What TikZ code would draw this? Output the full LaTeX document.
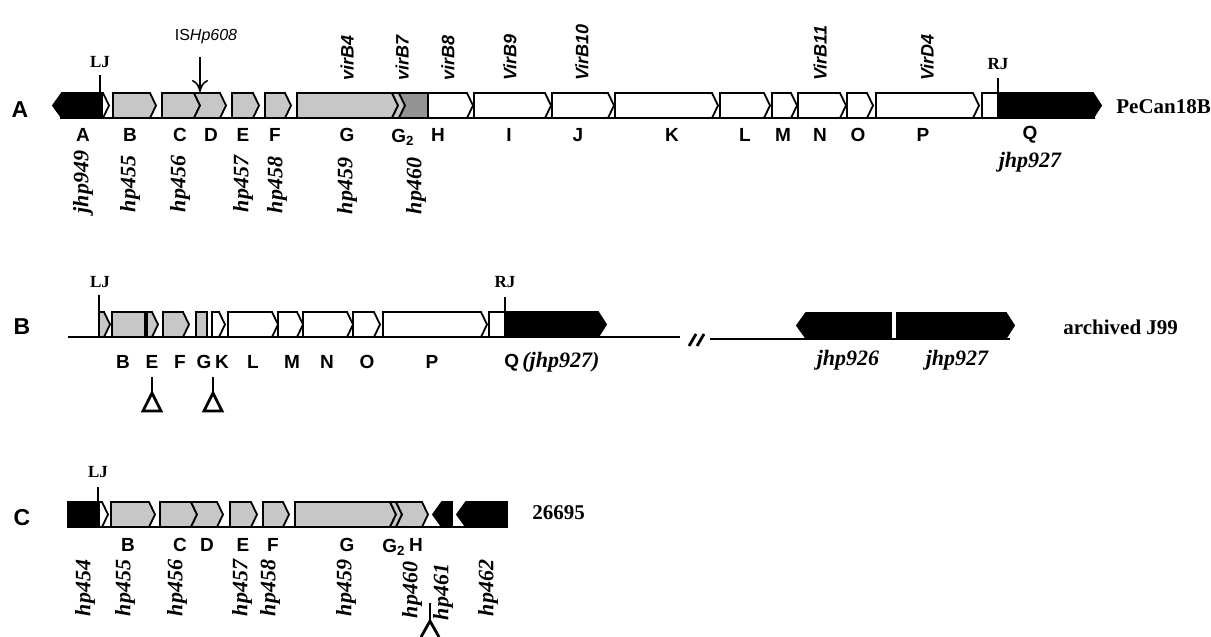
\documentclass[tikz,border=0pt]{standalone}
\usepackage{fontspec}
\setmainfont{Liberation Serif}
\setsansfont{Liberation Sans}
\usepackage{xcolor}
\usepackage{tikz}
\usetikzlibrary{arrows.meta}

\colorlet{shade}{black!22}
\colorlet{darkshade}{black!42}

\tikzset{
    genebox/.style={draw=black, line width=0.9pt, line join=miter},
    dnaline/.style={line width=1.1pt},
    jline/.style={line width=0.8pt},
    letter/.style={font=\fontsize{9.5}{10}\selectfont\sffamily\bfseries, inner sep=0pt},
    locus/.style={font=\fontsize{11}{12}\selectfont\bfseries\itshape, rotate=90, inner sep=0pt},
    locusflat/.style={font=\fontsize{11}{12}\selectfont\bfseries\itshape, inner sep=0pt},
    vir/.style={font=\fontsize{9}{10}\selectfont\sffamily\bfseries\itshape, rotate=90, anchor=west, inner sep=0pt},
    junction/.style={font=\fontsize{8.5}{9}\selectfont\bfseries, inner sep=0pt},
    strain/.style={font=\fontsize{10.5}{12}\selectfont\bfseries, anchor=west, inner sep=0pt},
    rowlabel/.style={font=\fontsize{11.5}{12}\selectfont\sffamily\bfseries, inner sep=0pt},
}

% gene shapes: start, end, top of the row, fill
\newcommand{\arrowgene}[4]{\filldraw[genebox,fill=#4] (#1,#3) -- ({#2-6},#3) -- (#2,{#3+12.5}) -- ({#2-6},{#3+25}) -- (#1,{#3+25}) -- cycle;}
\newcommand{\notchgene}[4]{\filldraw[genebox,fill=#4] (#1,#3) -- ({#2-6},#3) -- (#2,{#3+12.5}) -- ({#2-6},{#3+25}) -- (#1,{#3+25}) -- ({#1+6},{#3+12.5}) -- cycle;}
\newcommand{\backgene}[4]{\filldraw[genebox,fill=#4] (#1,{#3+12.5}) -- ({#1+9},#3) -- (#2,#3) -- (#2,{#3+25}) -- ({#1+9},{#3+25}) -- cycle;}
\newcommand{\boxgene}[4]{\filldraw[genebox,fill=#4] (#1,#3) rectangle (#2,{#3+25});}
\newcommand{\tipgene}[4]{\filldraw[genebox,fill=#4] (#1,#3) -- ({#2-8},#3) -- (#2,{#3+12.5}) -- ({#2-8},{#3+25}) -- (#1,{#3+25}) -- cycle;}

\begin{document}
\begin{tikzpicture}[x=0.5pt,y=-0.5pt]
    \useasboundingbox (0,0) rectangle (1211,637);

    % ---- A: PeCan18B
    \node[rowlabel] (rowA) at (20,110) {A};
    \draw[dnaline] (60,118) -- (1095,118);
    \backgene{53}{102}{93}{black}
    \arrowgene{102}{109}{93}{white}
    \foreach \a/\b in {113/156, 162/200, 232/259, 265/291, 297/398} {
        \arrowgene{\a}{\b}{93}{shade}
    }
    \notchgene{194}{226}{93}{shade}
    % G2, light chevron then the darker part
    \notchgene{392}{405}{93}{shade}
    \filldraw[genebox,fill=darkshade] (399,93) -- (428,93) -- (428,118) -- (399,118) -- (405,105.5) -- cycle;
    \foreach \a/\b in {428/473, 474/551, 552/614, 615/718, 720/770, 772/797, 798/846, 847/873, 876/979} {
        \arrowgene{\a}{\b}{93}{white}
    }
    \boxgene{982}{998}{93}{white}
    \tipgene{998}{1101}{93}{black}

    % junctions and insertion
    \node[junction] (ljA) at (100,62) {LJ};
    \coordinate (ljAfoot) at (100,93);
    \draw[jline] (100,75) -- (ljAfoot);
    \node[junction] (rjA) at (998,64) {RJ};
    \coordinate (rjAfoot) at (998,93);
    \draw[jline] (998,78) -- (rjAfoot);
    \node[font=\fontsize{8}{9}\selectfont\sffamily, inner sep=0pt] (ish) at (206,37) {IS\textit{Hp608}};
    \coordinate (ishtop) at (200,57);
    \coordinate (ishtip) at (200,92);
    \draw[line width=0.8pt, -{To[length=6pt,width=8pt]}] (ishtop) -- (ishtip);

    % vir names above
    \foreach \x/\l in {347/virB4, 402/virB7, 448/virB8, 510/VirB9, 582/VirB10, 820/VirB11, 927/VirD4}
        \node[vir] (v-\l) at (\x,81) {\l};

    % letters and loci below
    \foreach \x/\l in {83/A, 130/B, 180/C, 211/D, 243/E, 275/F, 347/G, 438/H, 509/I, 578/J, 672/K, 745/L, 783/M, 820/N, 858/O, 923/P, 1030/Q}
        \node[letter] (a-\l) at (\x,135) {\l};
    \node[letter] (a-G2) at (403,137) {G\textsubscript{2}};
    \foreach \x/\y/\l in {83/182/jhp949, 130/184/hp455, 180/184/hp456, 243/184/hp457, 277/185/hp458, 347/186/hp459, 416/186/hp460}
        \node[locus] (a-\l) at (\x,\y) {\l};
    \node[locusflat] (a-jhp927) at (1030,162) {jhp927};
    \node[strain] (sA) at (1116,107) {PeCan18B};

    % ---- B: archived J99
    \node[rowlabel] (rowB) at (22,327) {B};
    \draw[dnaline] (68,337) -- (680,337);
    \draw[dnaline] (710,339) -- (1010,339);
    \arrowgene{99}{110}{312}{shade}
    \boxgene{112}{145}{312}{shade}
    \arrowgene{147}{158}{312}{shade}
    \arrowgene{163}{189}{312}{shade}
    \boxgene{196}{207}{312}{shade}
    \foreach \a/\b in {212/225, 228/278, 278/303, 303/353, 353/380, 383/487} {
        \arrowgene{\a}{\b}{312}{white}
    }
    \boxgene{489}{505}{312}{white}
    \tipgene{505}{606}{312}{black}
    \backgene{797}{891}{313}{black}
    \tipgene{897}{1014}{313}{black}
    % break mark
    \draw[line width=1.4pt] (689,346) -- (696,334) (697,346) -- (704,334);

    \node[junction] (ljB) at (100,282) {LJ};
    \coordinate (ljBfoot) at (99,312);
    \draw[jline] (99,295) -- (ljBfoot);
    \node[junction] (rjB) at (505,282) {RJ};
    \coordinate (rjBfoot) at (505,312);
    \draw[jline] (505,297) -- (rjBfoot);

    \foreach \x/\l in {123/B, 152/E, 180/F, 204/G, 222/K, 253/L, 292/M, 327/N, 367/O, 432/P}
        \node[letter] (b-\l) at (\x,362) {\l};
    \node[letter, anchor=west] (b-Q) at (504,362) {Q\,{\fontsize{11}{12}\selectfont\rmfamily\itshape (jhp927)}};
    \node[locusflat] (b-jhp926) at (848,360) {jhp926};
    \node[locusflat] (b-jhp927) at (957,360) {jhp927};
    \node[strain] (sB) at (1063,327) {archived J99};

    % deletions under E and G
    \foreach \x in {152, 213} {
        \draw[jline] (\x,377) -- (\x,393);
        \draw[line width=1.4pt, line join=miter] (\x,393) -- (\x-9,411) -- (\x+9,411) -- cycle;
    }

    % ---- C: 26695
    \node[rowlabel] (rowC) at (22,518) {C};
    \draw[dnaline] (68,527) -- (508,527);
    \boxgene{68}{99}{502}{black}
    \arrowgene{99}{108}{502}{white}
    \foreach \a/\b in {111/155, 160/197, 230/257, 263/289, 295/396} {
        \arrowgene{\a}{\b}{502}{shade}
    }
    \notchgene{191}{223}{502}{shade}
    \notchgene{390}{402}{502}{shade}
    \notchgene{396}{428}{502}{shade}
    \backgene{433}{452}{502}{black}
    \backgene{457}{507}{502}{black}

    \node[junction] (ljC) at (98,472) {LJ};
    \coordinate (ljCfoot) at (98,502);
    \draw[jline] (98,487) -- (ljCfoot);

    \foreach \x/\l in {128/B, 180/C, 207/D, 243/E, 273/F, 347/G, 416/H}
        \node[letter] (c-\l) at (\x,545) {\l};
    \node[letter] (c-G2) at (394,547) {G\textsubscript{2}};
    \foreach \x/\y/\l in {85/588/hp454, 125/588/hp455, 177/588/hp456, 242/588/hp457, 270/588/hp458, 346/588/hp459, 412/590/hp460, 443/592/hp461, 488/588/hp462}
        \node[locus] (c-\l) at (\x,\y) {\l};
    \node[strain] (sC) at (532,513) {26695};

    % insertion between hp460 and hp461
    \draw[jline] (430,603) -- (430,621);
    \draw[line width=1.4pt, line join=miter] (421,637) -- (430,621) -- (439,637);
\end{tikzpicture}
\end{document}
